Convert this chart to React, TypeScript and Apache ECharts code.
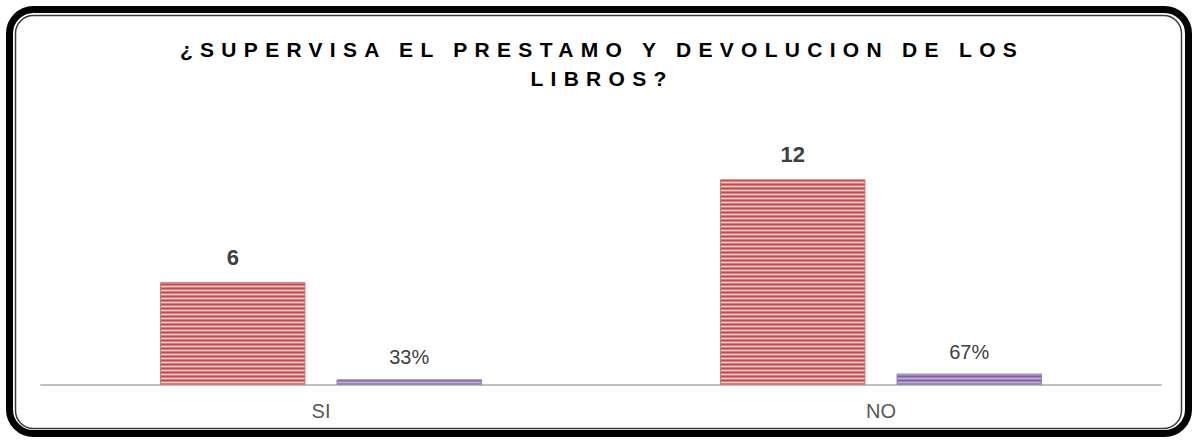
import React, { useEffect, useRef } from 'react';
import * as echarts from 'echarts';

const categories = ['SI', 'NO'];
const counts = [6, 12];
const shares = [0.33, 0.67];
const titleLines = ['¿SUPERVISA EL PRESTAMO Y DEVOLUCION DE LOS', 'LIBROS?'];

const FONT = "'Liberation Sans', Arial, sans-serif";

function stripes(colors: string[]) {
  const c = document.createElement('canvas');
  c.width = 4;
  c.height = colors.length;
  const ctx = c.getContext('2d')!;
  colors.forEach((col, i) => {
    ctx.fillStyle = col;
    ctx.fillRect(0, i, 4, 1);
  });
  return { image: c, repeat: 'repeat', imageWidth: 4, imageHeight: colors.length } as any;
}

function applySpacing(el: HTMLElement) {
  const texts = el.querySelectorAll('text');
  texts.forEach((t) => {
    const s = (t.textContent || '').trim();
    if (titleLines.includes(s)) {
      (t as any).style.letterSpacing = '7.3px';
      t.setAttribute('dx', '3.5');
    }
  });
}

export default function App() {
  const ref = useRef<HTMLDivElement>(null);
  useEffect(() => {
    if (!ref.current) return;
    const chart = echarts.init(ref.current, undefined, { renderer: 'svg' });
    const redPattern = stripes(['#C0504D', '#D47F7D', '#F0CDCC', '#D47F7D']);
    const purplePattern = stripes(['#7F63A1', '#9A84B8', '#BFB0D4', '#9A84B8']);
    chart.setOption({
      animation: false,
      backgroundColor: '#ffffff',
      title: {
        text: titleLines.join('\n'),
        left: 'center',
        top: 30,
        textStyle: {
          fontFamily: FONT,
          fontSize: 21,
          fontWeight: 'bold',
          color: '#000000',
          lineHeight: 29,
        },
      },
      grid: { left: 41, right: 36, top: 145, bottom: 55, containLabel: false },
      xAxis: {
        type: 'category',
        data: categories,
        axisLine: { lineStyle: { color: '#C0C0C0', width: 2 } },
        axisTick: { show: false },
        axisLabel: { fontFamily: FONT, fontSize: 20, color: '#595959', margin: 16 },
      },
      yAxis: {
        type: 'value',
        min: 0,
        max: 14,
        show: false,
        splitLine: { show: false },
      },
      series: [
        {
          type: 'bar',
          data: counts,
          barWidth: 145.5,
          barGap: '21.3%',
          itemStyle: { color: redPattern, borderColor: '#D27573', borderWidth: 1 },
          label: {
            show: true,
            position: 'top',
            distance: 14,
            fontFamily: FONT,
            fontSize: 22,
            fontWeight: 'bold',
            color: '#404040',
          },
        },
        {
          type: 'bar',
          data: shares,
          barWidth: 145.5,
          itemStyle: { color: purplePattern, borderColor: '#9A84B8', borderWidth: 1 },
          label: {
            show: true,
            position: 'top',
            distance: 12,
            fontFamily: FONT,
            fontSize: 20,
            color: '#404040',
            formatter: (p: any) => Math.round(p.value * 100) + '%',
          },
        },
      ],
      graphic: [
        {
          type: 'rect',
          shape: { x: 9.5, y: 9.5, width: 1179, height: 424, r: 24 },
          style: { fill: 'none', stroke: '#000000', lineWidth: 7 },
          silent: true,
        },
        {
          type: 'rect',
          shape: { x: 15.5, y: 15.5, width: 1166, height: 413, r: 18 },
          style: { fill: 'none', stroke: '#3A3A3A', lineWidth: 1.5 },
          silent: true,
        },
      ],
    });
    applySpacing(ref.current);
    const el = ref.current;
    chart.on('finished', () => applySpacing(el));
    return () => {
      chart.dispose();
    };
  }, []);
  return (
    <div
      ref={ref}
      style={{ position: 'fixed', left: 0, top: 0, width: 1197, height: 440 }}
    />
  );
}
